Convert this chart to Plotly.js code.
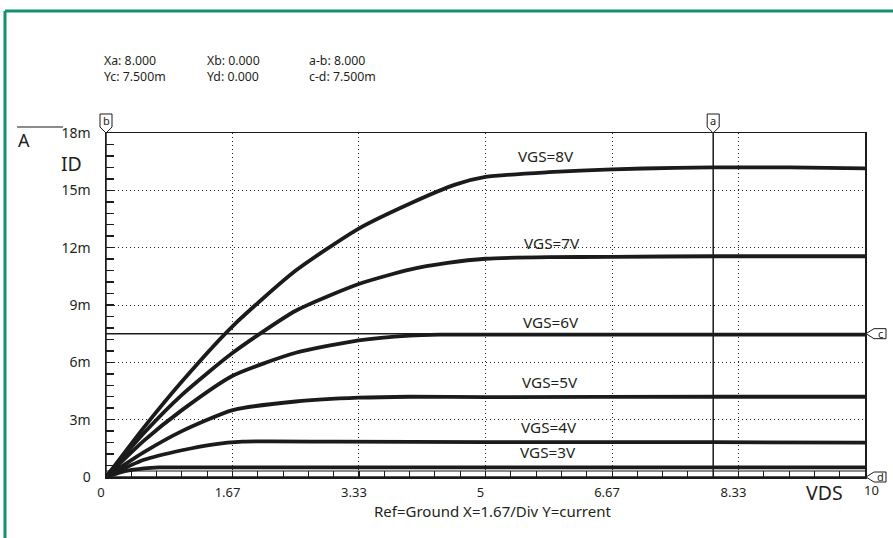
<!DOCTYPE html>
<html>
<head>
<meta charset="utf-8">
<script src="https://cdn.plot.ly/plotly-3.0.1.min.js"></script>
<style>
html,body{margin:0;padding:0;background:#fff;}
#chart{width:893px;height:538px;}
</style>
</head>
<body>
<div id="chart"></div>
<script>
// ---- data (ID in mA, VDS in V) ----
const vds8 = [0, 0.5, 1, 1.67, 2.5, 3.33, 4, 4.6, 5, 5.83, 6.67, 7.5, 8, 8.33, 9, 10];
const id8  = [0, 2.6, 5.0, 7.9, 10.8, 13.0, 14.3, 15.3, 15.7, 15.95, 16.1, 16.18, 16.2, 16.2, 16.2, 16.15];
const vds7 = [0, 0.5, 1, 1.67, 2.5, 3.33, 4, 4.5, 5, 5.83, 6.67, 8, 10];
const id7  = [0, 2.3, 4.3, 6.5, 8.7, 10.1, 10.85, 11.2, 11.42, 11.5, 11.52, 11.55, 11.55];
const vds6 = [0, 0.5, 1, 1.67, 2.5, 3.33, 4, 4.4, 5, 6, 8, 10];
const id6  = [0, 1.9, 3.5, 5.3, 6.5, 7.15, 7.4, 7.45, 7.45, 7.45, 7.45, 7.45];
const vds5 = [0, 0.5, 1, 1.67, 2.5, 3.33, 4, 5, 8, 10];
const id5  = [0, 1.3, 2.4, 3.5, 3.95, 4.15, 4.2, 4.18, 4.2, 4.2];
const vds4 = [0, 0.5, 1, 1.4, 1.8, 3, 5, 8, 10];
const id4  = [0, 0.9, 1.4, 1.7, 1.85, 1.85, 1.83, 1.82, 1.8];
const vds3 = [0, 0.25, 0.5, 0.7, 1, 5, 10];
const id3  = [0, 0.3, 0.45, 0.5, 0.5, 0.5, 0.5];
const curveNames = ["VGS=8V", "VGS=7V", "VGS=6V", "VGS=5V", "VGS=4V", "VGS=3V"];

const xTickVals = [0, 1.667, 3.333, 5, 6.667, 8.333];
const xTickText = ["0", "1.67", "3.33", "5", "6.67", "8.33"];
const yTickVals = [0, 3, 6, 9, 12, 15, 18];
const yTickText = ["0", "3m", "6m", "9m", "12m", "15m", "18m"];

// cursors
const Xa = 8.0, Xb = 0.0, Yc = 7.5, Yd = 0.0;
const headerRow1 = ["Xa: 8.000", "Xb: 0.000", "a-b: 8.000"];
const headerRow2 = ["Yc: 7.500m", "Yd: 0.000", "c-d: 7.500m"];

// ---- geometry helpers ----
const W = 893, H = 538, L = 106, R = 28, T = 133, B = 61;
const pw = W - L - R, ph = H - T - B;
const px = v => (v - L) / pw;
const py = v => (H - B - v) / ph;
const FONT = "Noto Sans";
const INK = "#1b1b1b";
const TXT = "#231f20";

const xs = [vds8, vds7, vds6, vds5, vds4, vds3];
const ys = [id8, id7, id6, id5, id4, id3];
const traces = xs.map((x, i) => ({
  x: x, y: ys[i], type: "scatter", mode: "lines", name: curveNames[i],
  line: {color: INK, width: 3.8, shape: "spline", smoothing: 0.6},
  hoverinfo: "skip", showlegend: false
}));

const shapes = [];
// green frame
shapes.push({type: "line", xref: "paper", yref: "paper", x0: px(5), x1: px(900), y0: py(11), y1: py(11), line: {color: "#129070", width: 3}});
shapes.push({type: "line", xref: "paper", yref: "paper", x0: px(5), x1: px(5), y0: py(11), y1: py(545), line: {color: "#129070", width: 3}});
// overline above "A"
shapes.push({type: "line", xref: "paper", yref: "paper", x0: px(17), x1: px(63), y0: py(127), y1: py(127), line: {color: INK, width: 1.2}});
// cursor lines
shapes.push({type: "line", xref: "x", yref: "paper", x0: Xa, x1: Xa, y0: 0, y1: 1, line: {color: INK, width: 1.5}});
shapes.push({type: "line", xref: "x", yref: "paper", x0: Xb, x1: Xb, y0: 0, y1: 1, line: {color: INK, width: 1.5}});
shapes.push({type: "line", xref: "paper", yref: "y", x0: 0, x1: 1, y0: Yc, y1: Yc, line: {color: INK, width: 1.5}});
shapes.push({type: "line", xref: "paper", yref: "y", x0: 0, x1: 1, y0: Yd, y1: Yd, line: {color: INK, width: 1.5}});
// lower axis companion line
shapes.push({type: "line", xref: "paper", yref: "paper", x0: 0, x1: 1, y0: py(471), y1: py(471), line: {color: INK, width: 1}});

// cursor markers (pointed tags)
function topTag(cx) {
  const l = cx - 6, r = cx + 6;
  return {type: "path", xref: "paper", yref: "paper",
    path: `M ${px(l)} ${py(114)} L ${px(r)} ${py(114)} L ${px(r)} ${py(127)} L ${px(cx)} ${py(133)} L ${px(l)} ${py(127)} Z`,
    line: {color: INK, width: 1}, fillcolor: "#fff"};
}
function rightTag(cy) {
  const t = cy - 5, b = cy + 5;
  return {type: "path", xref: "paper", yref: "paper",
    path: `M ${px(866)} ${py(cy)} L ${px(874)} ${py(t)} L ${px(886)} ${py(t)} L ${px(886)} ${py(b)} L ${px(874)} ${py(b)} Z`,
    line: {color: INK, width: 1}, fillcolor: "#fff"};
}
const xaPix = L + Xa / 10 * pw, xbPix = L + Xb / 10 * pw;
const ycPix = H - B - Yc / 18 * ph, ydPix = H - B - Yd / 18 * ph;
shapes.push(topTag(xaPix), topTag(xbPix), rightTag(ycPix), rightTag(ydPix));

const ann = [];
function txt(text, x, y, size, opts) {
  ann.push(Object.assign({text: text, xref: "paper", yref: "paper", x: px(x), y: py(y),
    showarrow: false, font: {family: FONT, size: size, color: TXT}, xanchor: "left", yanchor: "middle"}, opts || {}));
}
// header (two lines per column)
const hx = [102, 205, 307];
headerRow1.forEach((t, i) => txt(t + "<br>" + headerRow2[i], hx[i], 68, 12.3, {align: "left"}));
// tag letters
txt("a", xaPix, 121, 11, {xanchor: "center"});
txt("b", xbPix, 121, 11, {xanchor: "center"});
txt("c", 880, ycPix, 11, {xanchor: "center"});
txt("d", 880, ydPix - 1, 11, {xanchor: "center"});
// axis names
txt("A", 16, 140, 18);
txt("ID", 59, 163, 19.5);
txt("VDS", 804, 492, 19.5);
txt("10", 871, 490, 13, {xanchor: "center"});
txt("Ref=Ground X=1.67/Div Y=current", 492, 511, 15, {xanchor: "center"});
// curve labels
const labelPos = [[546, 156], [552, 243], [551, 322], [550, 382], [549, 427], [548, 452]];
curveNames.forEach((n, i) => txt(n, labelPos[i][0], labelPos[i][1], 15.3, {xanchor: "center"}));

const layout = {
  width: W, height: H,
  margin: {l: L, r: R, t: T, b: B, pad: 0},
  paper_bgcolor: "#fff", plot_bgcolor: "#fff",
  showlegend: false,
  font: {family: FONT, color: TXT, size: 13},
  xaxis: {
    range: [0, 10], fixedrange: true,
    tickmode: "array", tickvals: xTickVals, ticktext: xTickText,
    ticks: "inside", ticklen: 6, tickwidth: 1, tickcolor: INK,
    minor: {tick0: 0, dtick: 1 / 3, ticks: "inside", ticklen: 6, tickwidth: 1, tickcolor: INK, showgrid: false},
    showgrid: true, gridcolor: "#222", gridwidth: 1, griddash: "1px,3px",
    showline: true, linecolor: INK, linewidth: 1.5, mirror: true,
    zeroline: false, ticklabelshift: -5, ticklabelstandoff: 3,
    tickfont: {family: FONT, size: 13, color: TXT}
  },
  yaxis: {
    range: [0, 18], fixedrange: true,
    tickmode: "array", tickvals: yTickVals, ticktext: yTickText,
    ticks: "inside", ticklen: 8, tickwidth: 1.5, tickcolor: INK,
    minor: {tick0: 0, dtick: 0.6, ticks: "inside", ticklen: 8, tickwidth: 1.5, tickcolor: INK, showgrid: false},
    showgrid: true, gridcolor: "#222", gridwidth: 1, griddash: "1px,3px",
    showline: true, linecolor: INK, linewidth: 1.5, mirror: true,
    zeroline: false, ticklabelstandoff: 11,
    tickfont: {family: FONT, size: 14, color: TXT}
  },
  shapes: shapes,
  annotations: ann
};
Plotly.newPlot("chart", traces, layout, {staticPlot: true, displayModeBar: false});
</script>
</body>
</html>
